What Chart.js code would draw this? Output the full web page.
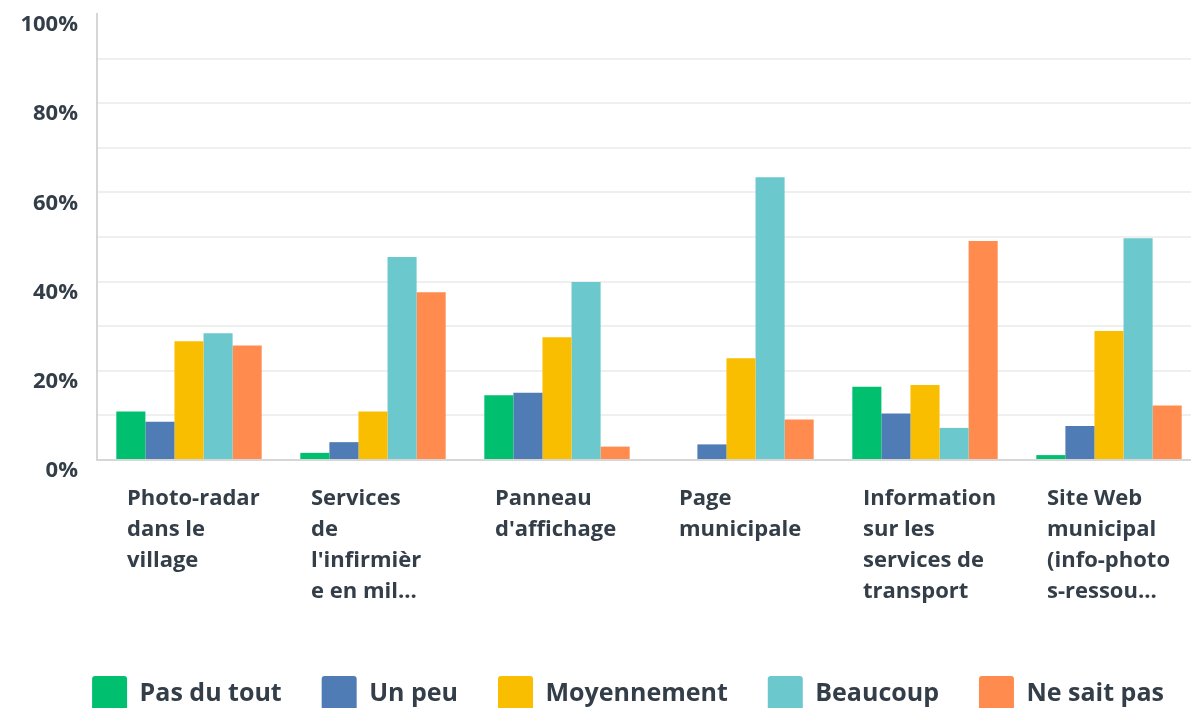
<!DOCTYPE html>
<html>
<head>
<meta charset="utf-8">
<script src="https://cdn.jsdelivr.net/npm/chart.js@4/dist/chart.umd.min.js"></script>
<style>
  html, body { margin: 0; padding: 0; background: #fff; overflow: hidden; }
  #wrap { position: absolute; left: 0; top: 0; width: 1256px; height: 721px; }
</style>
</head>
<body>
<div id="wrap"><canvas id="barChart"></canvas></div>
<script>
'use strict';

// categories (multi-line, as the survey tool cut them)
var categories = [
    ['Photo-radar', 'dans le', 'village'],
    ['Services', 'de', "l'infirmièr", 'e en mil...'],
    ['Panneau', "d'affichage"],
    ['Page', 'municipale'],
    ['Information', 'sur les', 'services de', 'transport'],
    ['Site Web', 'municipal', '(info-photo', 's-ressou...']
];

var seriesNames = ['Pas du tout', 'Un peu', 'Moyennement', 'Beaucoup', 'Ne sait pas'];

var pasDuTout   = [10.9, 1.6, 14.5, 0, 16.4, 1.1];
var unPeu       = [8.6, 4.0, 15.1, 3.5, 10.4, 7.6];
var moyennement = [26.6, 10.9, 27.5, 22.8, 16.8, 28.9];
var beaucoup    = [28.4, 45.5, 39.9, 63.4, 7.2, 49.7];
var neSaitPas   = [25.7, 37.6, 3.0, 9.1, 49.1, 12.2];

var yTicks = [0, 20, 40, 60, 80, 100];

var colors = ['#00bf6f', '#507cb6', '#f9be00', '#6bc8cd', '#ff8b4f'];
var textColor = '#333e48';
var fontFamily = "'Open Sans', 'Liberation Sans', sans-serif";

var values = [pasDuTout, unPeu, moyennement, beaucoup, neSaitPas];

var datasets = seriesNames.map(function (name, i) {
    return {
        label: name,
        data: values[i],
        backgroundColor: colors[i],
        borderWidth: 0,
        categoryPercentage: 0.79,
        barPercentage: 1.0
    };
});

var barChart = new Chart(document.getElementById('barChart'), {
    type: 'bar',
    data: {
        labels: categories,
        datasets: datasets
    },
    options: {
        responsive: true,
        maintainAspectRatio: false,
        animation: false,
        layout: {
            padding: { left: 0, top: 14, right: 0, bottom: 0 }
        },
        plugins: {
            tooltip: { enabled: false },
            legend: {
                position: 'bottom',
                labels: {
                    boxWidth: 35,
                    boxHeight: 35,
                    padding: 40,
                    useBorderRadius: true,
                    borderRadius: 3,
                    color: textColor,
                    font: { family: fontFamily, size: 25, weight: '700' }
                }
            }
        },
        scales: {
            x: {
                grid: { display: false, drawTicks: false },
                border: { display: true, color: '#d6d6d6', width: 2 },
                ticks: {
                    autoSkip: false,
                    maxRotation: 0,
                    minRotation: 0,
                    align: 'start',
                    labelOffset: -62,
                    padding: 23,
                    color: textColor,
                    font: { family: fontFamily, size: 22, weight: '700', lineHeight: 31 / 22 }
                },
                afterFit: function (scale) {
                    scale.height = 176;
                    scale.paddingLeft = 0;
                    scale.paddingRight = 0;
                }
            },
            y: {
                min: 0,
                max: 100,
                grid: {
                    drawTicks: false,
                    lineWidth: 2,
                    color: function (ctx) {
                        return ctx.tick && ctx.tick.value === 100 ? 'rgba(0,0,0,0)' : '#efefef';
                    }
                },
                border: { display: true, color: '#d6d6d6', width: 2 },
                ticks: {
                    stepSize: 10,
                    padding: 19,
                    labelOffset: 11,
                    color: textColor,
                    font: { family: fontFamily, size: 22, weight: '700' },
                    callback: function (v) {
                        return yTicks.indexOf(v) >= 0 ? v + '%' : '';
                    }
                },
                afterFit: function (scale) {
                    scale.width = 97;
                    scale.paddingTop = 0;
                    scale.paddingBottom = 0;
                }
            },
            // empty strip on the right, the source image was cut there
            spacer: {
                position: 'right',
                display: true,
                grid: { display: false, drawTicks: false },
                border: { display: false },
                ticks: { display: false },
                afterFit: function (scale) {
                    scale.width = 55;
                    scale.paddingTop = 0;
                    scale.paddingBottom = 0;
                }
            }
        }
    }
});
</script>
</body>
</html>
